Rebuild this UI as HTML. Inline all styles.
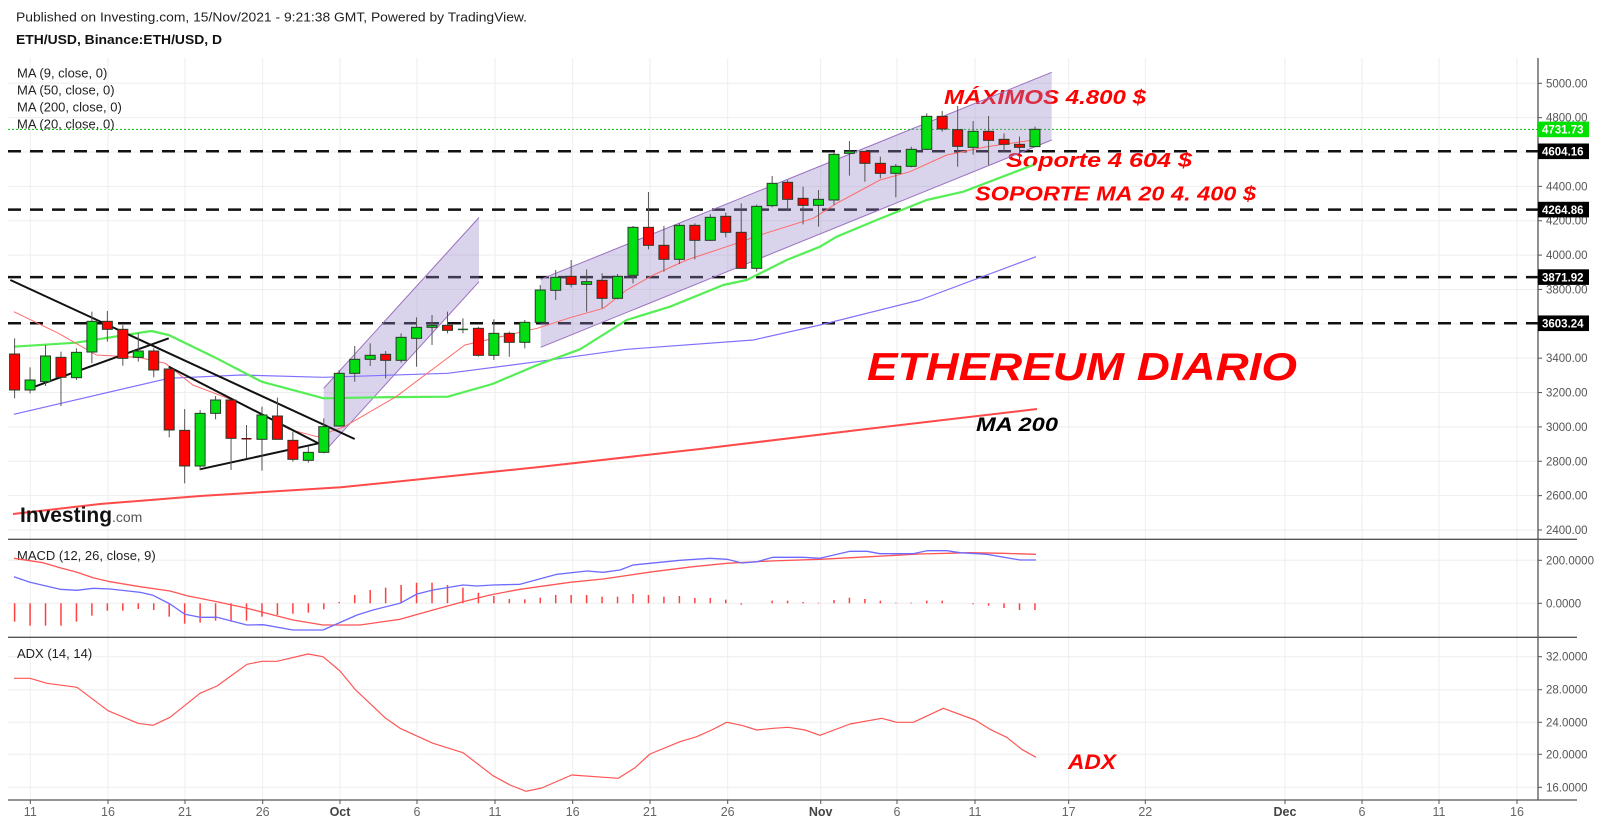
<!DOCTYPE html>
<html><head><meta charset="utf-8">
<style>
html,body{margin:0;padding:0;background:#fff;}
svg{display:block;}
text{font-family:"Liberation Sans",Arial,sans-serif;}
</style></head>
<body>
<svg id="s" width="1602" height="824" xmlns="http://www.w3.org/2000/svg">
<rect width="1602" height="824" fill="#fff"/>
<text x="16" y="21.7" font-size="13" fill="#222" textLength="511" lengthAdjust="spacingAndGlyphs">Published on Investing.com, 15/Nov/2021 - 9:21:38 GMT, Powered by TradingView.</text>
<text x="16" y="44" font-size="13" font-weight="bold" fill="#111" textLength="206" lengthAdjust="spacingAndGlyphs">ETH/USD, Binance:ETH/USD, D</text>
<g id="g"></g>
</svg>
<script>
var NS="http://www.w3.org/2000/svg",G=document.getElementById('g');
function el(t,a,txt){var e=document.createElementNS(NS,t);for(var k in a)e.setAttribute(k,a[k]);if(txt!==undefined)e.textContent=txt;G.appendChild(e);return e;}
function Y(p){return 83.3+(5000-p)*0.1718;}
function z1(p){return [p[0]/2.904,280+p[1]/3];}
function z2(p){return [520+p[0]/3,90+p[1]/3];}
function pl(pts,c,w,extra){var a={points:pts.map(function(p){return p[0].toFixed(1)+','+p[1].toFixed(1)}).join(' '),fill:'none',stroke:c,'stroke-width':w,'stroke-linejoin':'round'};for(var k in extra)a[k]=extra[k];return el('polyline',a);}
var dates=[[30.3,'11'],[108,'16'],[185,'21'],[262.7,'26'],[340,'Oct'],[417,'6'],[495,'11'],[572.7,'16'],[650,'21'],[727.7,'26'],[820.7,'Nov'],[897,'6'],[975,'11'],[1068.7,'17'],[1145.3,'22'],[1285,'Dec'],[1362,'6'],[1439,'11'],[1517,'16']];
dates.forEach(function(d){el('line',{x1:d[0],x2:d[0],y1:58,y2:800,stroke:'#eeeeee','stroke-width':1});
 el('line',{x1:d[0],x2:d[0],y1:800,y2:804,stroke:'#555','stroke-width':1});
 var m=isNaN(+d[1]);el('text',{x:d[0],y:816,'font-size':12.5,fill:m?'#444':'#666','font-weight':m?'bold':'normal','text-anchor':'middle'},d[1]);});
for(var p=2400;p<=5000;p+=200){var y=Y(p);el('line',{x1:8,x2:1538,y1:y,y2:y,stroke:'#eeeeee'});
 el('line',{x1:1538,x2:1542,y1:y,y2:y,stroke:'#555'});
 el('text',{x:1546,y:y+4,'font-size':11.5,fill:'#555'},p.toFixed(2));}
[[560.3,'200.0000'],[603.3,'0.0000']].forEach(function(a){el('line',{x1:8,x2:1538,y1:a[0],y2:a[0],stroke:'#eeeeee'});el('line',{x1:1538,x2:1542,y1:a[0],y2:a[0],stroke:'#555'});el('text',{x:1546,y:a[0]+4,'font-size':11.5,fill:'#555'},a[1]);});
[[656.7,'32.0000'],[689.7,'28.0000'],[722.3,'24.0000'],[754.3,'20.0000'],[787.3,'16.0000']].forEach(function(a){el('line',{x1:8,x2:1538,y1:a[0],y2:a[0],stroke:'#eeeeee'});el('line',{x1:1538,x2:1542,y1:a[0],y2:a[0],stroke:'#555'});el('text',{x:1546,y:a[0]+4,'font-size':11.5,fill:'#555'},a[1]);});
[539.3,637.3,800].forEach(function(y){el('line',{x1:8,x2:1577,y1:y,y2:y,stroke:'#555','stroke-width':1.3});});
el('line',{x1:1538,x2:1538,y1:58,y2:800,stroke:'#555','stroke-width':1.3});
['MA (9, close, 0)','MA (50, close, 0)','MA (200, close, 0)','MA (20, close, 0)'].forEach(function(t,i){el('text',{x:17,y:77.3+i*17,'font-size':13,fill:'#222'},t);});
el('text',{x:17,y:560,'font-size':13,fill:'#222'},'MACD (12, 26, close, 9)');
el('text',{x:17,y:658,'font-size':13,fill:'#222'},'ADX (14, 14)');
[4604.16,4264.86,3871.92,3603.24].forEach(function(p){var y=Y(p);el('line',{x1:8,x2:1538,y1:y,y2:y,stroke:'#111','stroke-width':2.5,'stroke-dasharray':'13 9'});});
el('line',{x1:8,x2:1538,y1:Y(4731.73),y2:Y(4731.73),stroke:'#00c000','stroke-width':1,'stroke-dasharray':'2 2'});
el('text',{x:944,y:104,'font-size':20,'font-weight':'bold','font-style':'italic',fill:'#ff0000',textLength:202,lengthAdjust:'spacingAndGlyphs'},'MÁXIMOS 4.800 $');
el('text',{x:1006,y:167,'font-size':20,'font-weight':'bold','font-style':'italic',fill:'#ff0000',textLength:186,lengthAdjust:'spacingAndGlyphs'},'Soporte 4 604  $');
el('text',{x:975,y:200.7,'font-size':20,'font-weight':'bold','font-style':'italic',fill:'#ff0000',textLength:281,lengthAdjust:'spacingAndGlyphs'},'SOPORTE MA 20 4. 400 $');
el('text',{x:867,y:380,'font-size':39,'font-weight':'bold','font-style':'italic',fill:'#ff0000',textLength:430,lengthAdjust:'spacingAndGlyphs'},'ETHEREUM DIARIO');
el('text',{x:976,y:431,'font-size':19,'font-weight':'bold','font-style':'italic',fill:'#000',textLength:82,lengthAdjust:'spacingAndGlyphs'},'MA 200');
el('text',{x:1068,y:769,'font-size':21,'font-weight':'bold','font-style':'italic',fill:'#ff0000',textLength:48,lengthAdjust:'spacingAndGlyphs'},'ADX');
el('polygon',{points:'323.7,388.3 479,217.5 479,281.7 323.7,452.4',fill:'rgba(150,130,200,0.35)',stroke:'none'});
el('line',{x1:323.7,y1:388.3,x2:479,y2:217.5,stroke:'#9a70c0','stroke-width':1});
el('line',{x1:323.7,y1:452.4,x2:479,y2:281.7,stroke:'#9a70c0','stroke-width':1});
el('polygon',{points:'540.7,279.3 1051.7,72.3 1051.7,140 540.7,347.3',fill:'rgba(150,130,200,0.35)',stroke:'none'});
el('line',{x1:540.7,y1:279.3,x2:1051.7,y2:72.3,stroke:'#9a70c0','stroke-width':1});
el('line',{x1:540.7,y1:347.3,x2:1051.7,y2:140,stroke:'#9a70c0','stroke-width':1});
pl([[13,514],[100,504],[200,496],[341,487.3],[537,467.3],[700,449],[850,431],[1037,409]],'#ff4a4a',2);
var ma50=[[40,403],[490,295],[700,285],[940,292],[1300,280],[1560,245]].map(z1).concat([[320,778],[700,750],[900,705],[1200,630],[1548,500]].map(z2));
pl(ma50,'#8070ff',1.2);
var ma20=[[40,200],[220,188],[440,153],[490,165],[620,230],[760,305],[940,355],[1100,352],[1300,350],[1430,312],[1560,255]].map(z1).concat([[180,778],[320,690],[450,650],[610,585],[680,570],[800,510],[900,470],[950,440],[1070,390],[1220,330],[1330,305],[1540,225]].map(z2));
pl(ma20,'#55ee55',2.2);
var ma9=[[40,95],[170,160],[280,225],[400,232],[480,250],[560,315],[700,370],[840,448],[920,470],[1000,440],[1150,350],[1350,195],[1560,145]].map(z1).concat([[150,683],[250,655],[320,600],[400,555],[500,510],[650,460],[720,435],[880,385],[950,340],[1080,270],[1170,245],[1280,195],[1400,170],[1540,150]].map(z2));
pl(ma9,'#ff6a6a',1);
[[[30,0],[1030,477]],[[100,320],[490,175]],[[490,260],[925,490]],[[580,568],[925,490]]].forEach(function(l){var a=z1(l[0]),b=z1(l[1]);el('line',{x1:a[0],y1:a[1],x2:b[0],y2:b[1],stroke:'#111','stroke-width':2});});
var c1=[['r',222,330,175,355],['g',330,300,262,340],['g',305,228,195,318],['r',232,292,215,378],['g',293,217,205,300],['g',216,124,95,250],['r',124,148,93,185],['r',148,235,135,257],['g',232,213,160,245],['r',213,270,205,292],['r',267,450,262,472],['r',451,558,387,610],['g',558,400,390,570],['g',400,360,348,418],['r',360,475,360,570],['dr',474,478,435,534],['g',478,405,380,572],['r',408,478,353,478],['r',481,538,455,545],['g',541,517,500,548],['g',517,440,415,520],['g',438,280,270,440],['g',280,238,198,305],['g',238,226,190,258],['r',223,241,213,295],['g',241,172,160,248],['g',175,142,112,260],['g',142,136,105,195],['r',136,151,95,160],['dg',146,148,115,160],['r',145,226,140,230],['g',226,160,118,240],['r',160,187,155,230]];
var c2=[['g',757,697,690,775],['g',697,600,585,697],['g',601,562,540,630],['r',559,583,510,592],['g',583,575,538,665],['r',571,625,550,655],['g',625,559,552,628],['g',556,412,408,580],['r',412,466,306,478],['r',466,508,408,545],['g',508,406,400,522],['r',406,451,400,508],['g',451,382,372,453],['r',379,427,368,442],['r',427,535,340,535],['g',535,349,344,545],['g',347,280,258,352],['r',277,328,270,360],['r',325,346,290,403],['g',346,328,300,410],['g',330,193,188,345],['g',189,184,153,257],['r',184,220,184,275],['r',220,250,200,265],['g',250,229,222,322],['g',229,178,170,232],['g',178,79,70,180],['r',79,117,63,125],['r',119,169,48,230],['g',172,124,93,194],['r',124,151,78,225],['r',148,163,130,185],['r',163,172,140,215],['g',170,118,110,170]];
var C=c1.map(function(c){return [c[0],280+c[1]/3,280+c[2]/3,280+c[3]/3,280+c[4]/3];}).concat(c2.map(function(c){return [c[0],90+c[1]/3,90+c[2]/3,90+c[3]/3,90+c[4]/3];}));
C.forEach(function(c,i){var x=14.6+i*15.46;var t=Math.min(c[1],c[2]),b=Math.max(c[1],c[2]);
 el('line',{x1:x,x2:x,y1:c[3],y2:c[4],stroke:'#555','stroke-width':1});
 if(c[0]=='dr'||c[0]=='dg'){el('rect',{x:x-5,y:t,width:10,height:Math.max(b-t,1.5),fill:c[0]=='dr'?'#6a1010':'#1f5a2a'});}
 else el('rect',{x:x-5,y:t,width:10,height:Math.max(b-t,2),fill:c[0]=='g'?'#00dd11':'#ff0000',stroke:'#2a3a2a','stroke-width':1});});
[[4731.73,'#00e000'],[4604.16,'#000'],[4264.86,'#000'],[3871.92,'#000'],[3603.24,'#000']].forEach(function(a){var y=Y(a[0]);el('rect',{x:1538,y:y-7.8,width:51,height:15.6,fill:a[1]});el('text',{x:1542,y:y+4.2,'font-size':11.5,'font-weight':'bold',fill:'#fff'},a[0].toFixed(2));});
var sig=[[14,558.3],[43,562.7],[60,567.7],[77,572.3],[93,577.7],[110,581.7],[140,586.7],[170,591],[187,595.7],[217,601.7],[247,608.3],[293,620],[323,625],[360,625],[400,619.3],[433,610],[463,601.7],[490,595],[520,589.3],[570,582.3],[603,579],[653,571.7],[693,566.7],[727,563.3],[770,561],[820,559.3],[870,556.7],[920,554],[970,552.7],[1003,553.3],[1036,554.3]];
var mac=[[14,576.7],[30,582.3],[60,589.3],[77,590.3],[93,588.3],[110,589],[140,592.3],[153,595.3],[170,604],[185,614.3],[200,617.3],[217,617.3],[247,625],[263,624.7],[293,630],[323,630],[357,615],[373,610],[400,603.3],[417,594],[433,590],[463,585],[477,586],[493,585],[520,584.3],[557,574.3],[587,571],[603,572.3],[620,570],[633,565],[650,563.3],[680,560.3],[710,558.3],[727,559.3],[742,563],[757,561.7],[773,557.3],[803,557.3],[820,558.3],[850,551.3],[867,551.3],[880,553.7],[913,553.7],[927,550.7],[947,550.7],[960,552.7],[987,554.3],[1020,560],[1036,560]];
var h1=[275,287,287,287,275,257,242,242,237,240,260,281,278,272,275,272,260,255,251,248,238,216,195,180,173,165,158,158,165,173,188,198,207];
var h2=[208,203,195,195,195,200,200,192,195,200,198,204,204,209,224,220,212,212,216,218,210,203,207,212,218,218,212,212,220,223,227,234,240,240];
var H=h1.map(function(v){return 530+v/3;}).concat(h2.map(function(v){return 530+v/3;}));
H.forEach(function(y,i){var x=14.6+i*15.46;if(Math.abs(y-603.3)<0.5)return;el('line',{x1:x,x2:x,y1:603.3,y2:y,stroke:'#ff4040','stroke-width':1.5});});
pl(sig,'#ff5555',1.3);pl(mac,'#6f6aff',1.3);
var adx=[[14,678.3],[30,678.3],[47,683.3],[77,687.3],[108,710.7],[138,723.3],[153,725.3],[170,717.3],[200,693.3],[217,686],[247,664.3],[262,661.3],[277,661.3],[308,654],[323,656.7],[340,671],[355,689.3],[385,717.7],[400,728.3],[433,743.3],[463,752.7],[493,775.7],[510,785],[526,791.3],[541.7,788],[571.7,775],[618.3,778.3],[635,767.7],[650,754],[680,741.7],[696.7,736.7],[711.7,730],[726.7,722.3],[741.7,725.3],[756.7,730],[773.3,728.3],[788.3,727.3],[805,730],[820,735.3],[850,724],[881.7,718.3],[896.7,722.3],[913.3,722.3],[943.3,708.3],[975,720],[990,729.3],[1006.7,737.3],[1021.7,749.3],[1036,757.3]];
pl(adx,'#ff5555',1.2);
el('text',{x:20,y:522,'font-size':21,'font-weight':'bold',fill:'#111',textLength:92,lengthAdjust:'spacingAndGlyphs'},'Investing');
el('text',{x:112,y:522,'font-size':14,fill:'#555'},'.com');
</script>
</body></html>
